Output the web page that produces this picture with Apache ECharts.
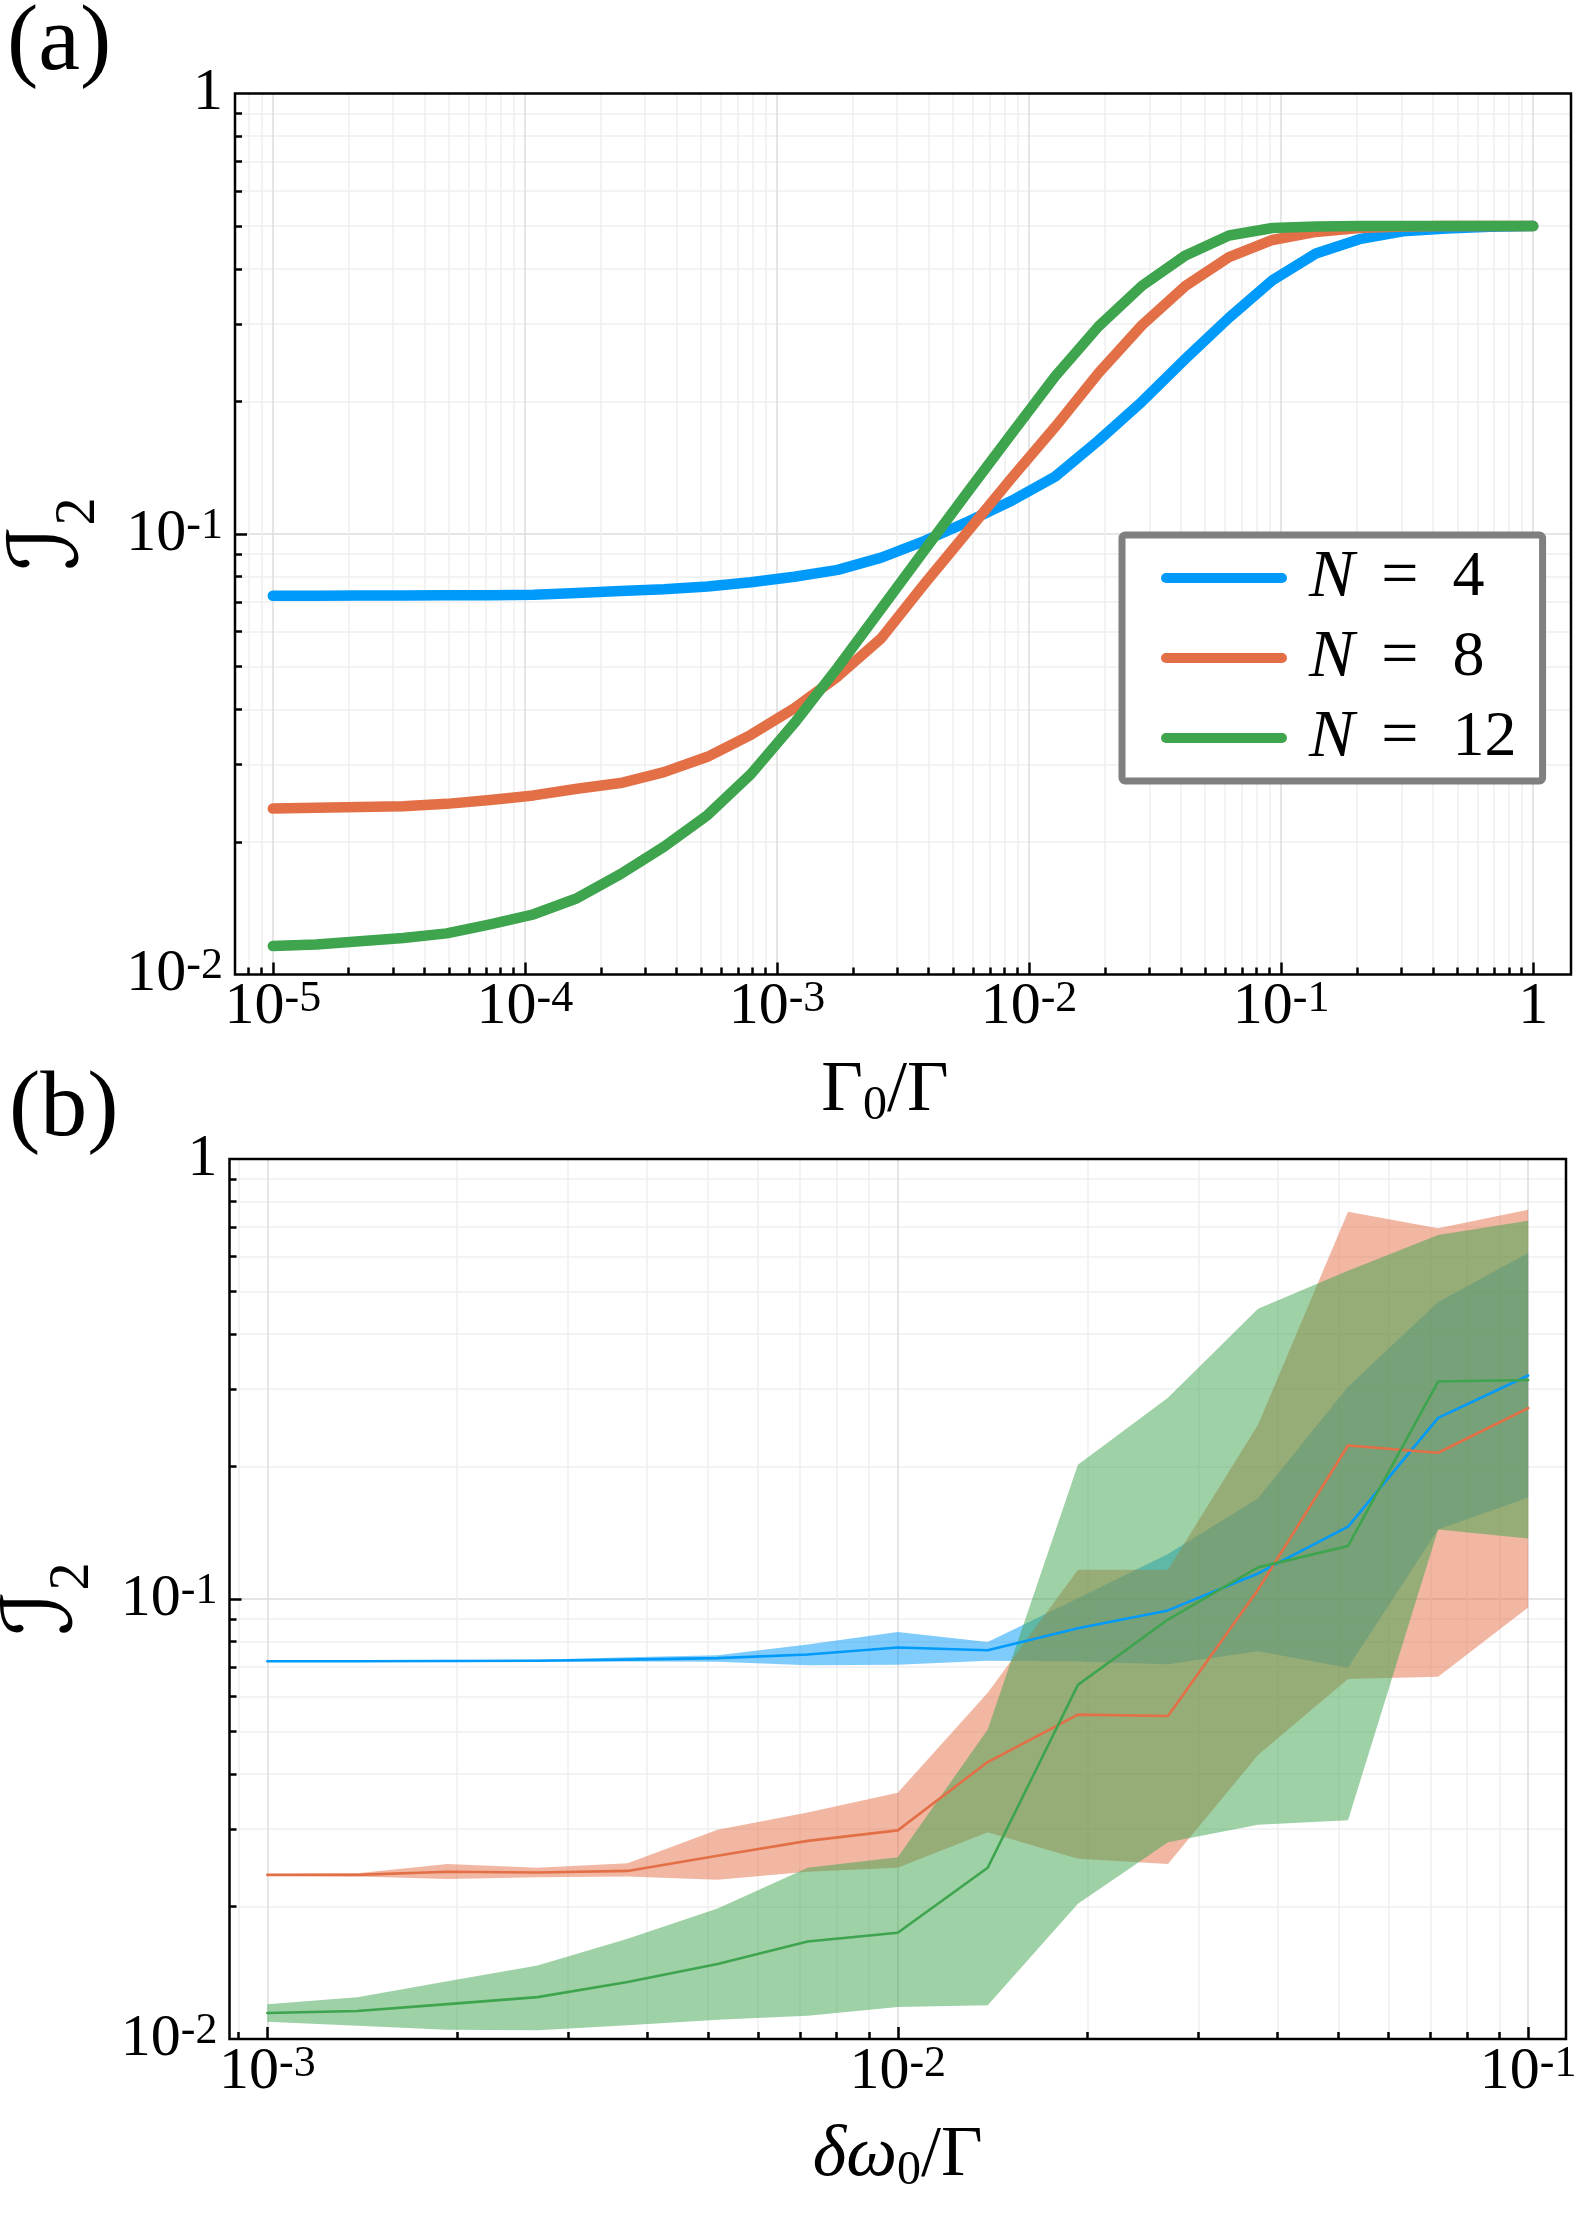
<!DOCTYPE html>
<html><head><meta charset="utf-8">
<script src="https://cdn.jsdelivr.net/npm/echarts@6/dist/echarts.min.js"></script>
<style>html,body{margin:0;padding:0;background:#fff}#c{width:1578px;height:2223px}</style>
</head><body><div id="c"></div>
<script>
// ---------- Panel (a): I2 vs Gamma0/Gamma ----------
const xA = [1.000e-5, 1.487e-5, 2.212e-5, 3.290e-5, 4.894e-5, 7.279e-5, 1.083e-4, 1.610e-4, 2.395e-4, 3.562e-4,
            5.298e-4, 7.880e-4, 1.172e-3, 1.743e-3, 2.593e-3, 3.857e-3, 5.736e-3, 8.532e-3, 1.269e-2, 1.887e-2,
            2.807e-2, 4.175e-2, 6.210e-2, 9.237e-2, 0.1374, 0.2043, 0.3039, 0.4520, 0.6723, 1.0];
const yA_N4 = [0.0724, 0.0724, 0.0725, 0.0725, 0.0726, 0.0726, 0.0728, 0.0735, 0.0742, 0.0749,
               0.0760, 0.0777, 0.0800, 0.0829, 0.0884, 0.0965, 0.1067, 0.119, 0.135, 0.163,
               0.1998, 0.2498, 0.3097, 0.3767, 0.4333, 0.467, 0.4866, 0.4937, 0.498, 0.5];
const yA_N8 = [0.0238, 0.0239, 0.0240, 0.0241, 0.0244, 0.0249, 0.0255, 0.0264, 0.0272, 0.0288,
               0.0312, 0.0350, 0.0402, 0.0475, 0.0580, 0.0772, 0.1016, 0.134, 0.175, 0.232,
               0.298, 0.366, 0.425, 0.465, 0.485, 0.495, 0.499, 0.5, 0.5, 0.5];
const yA_N12 = [0.0116, 0.0117, 0.0119, 0.0121, 0.0124, 0.0130, 0.0137, 0.0149, 0.0169, 0.0195,
                0.0230, 0.0285, 0.0372, 0.0498, 0.0677, 0.092, 0.125, 0.169, 0.228, 0.296,
                0.366, 0.429, 0.476, 0.495, 0.499, 0.5, 0.5, 0.5, 0.5, 0.5];

// ---------- Panel (b): I2 vs delta omega0/Gamma (mean, lower, upper) ----------
const xB = [1.000e-3, 1.389e-3, 1.931e-3, 2.683e-3, 3.728e-3, 5.179e-3, 7.197e-3, 1.000e-2,
            1.389e-2, 1.931e-2, 2.683e-2, 3.728e-2, 5.179e-2, 7.197e-2, 0.1];
const meanB_N4 = [0.0722, 0.0722, 0.0723, 0.0724, 0.0728, 0.0734, 0.0748, 0.0776, 0.0765, 0.0858, 0.0942, 0.1143, 0.146, 0.258, 0.322];
const upB_N4   = [0.0725, 0.0725, 0.0726, 0.0728, 0.0737, 0.0745, 0.0788, 0.0841, 0.0798, 0.1004, 0.1265, 0.1694, 0.3038, 0.4733, 0.6116];
const lowB_N4  = [0.0719, 0.0719, 0.0720, 0.0721, 0.0721, 0.0720, 0.0707, 0.0709, 0.0724, 0.0721, 0.0711, 0.0761, 0.0698, 0.1438, 0.1702];
const meanB_N8 = [0.0236, 0.0236, 0.0240, 0.0239, 0.0241, 0.0261, 0.0282, 0.0298, 0.0426, 0.0546, 0.0542, 0.105, 0.2233, 0.215, 0.2716];
const upB_N8   = [0.0237, 0.0238, 0.0250, 0.0245, 0.0251, 0.0299, 0.0327, 0.0363, 0.0612, 0.1166, 0.1166, 0.2489, 0.7586, 0.696, 0.767];
const lowB_N8  = [0.0235, 0.0234, 0.0231, 0.0233, 0.0234, 0.0230, 0.0240, 0.0245, 0.0295, 0.0257, 0.0250, 0.0442, 0.0658, 0.0666, 0.0956];
const meanB_N12 = [0.01146, 0.01158, 0.0120, 0.01245, 0.01348, 0.0148, 0.01665, 0.01744, 0.0245, 0.0638, 0.0898, 0.118, 0.132, 0.312, 0.3146];
const upB_N12   = [0.0120, 0.01245, 0.01353, 0.0147, 0.0169, 0.0198, 0.0245, 0.0259, 0.0505, 0.2019, 0.2866, 0.457, 0.5575, 0.672, 0.724];
const lowB_N12  = [0.01094, 0.01072, 0.0105, 0.01047, 0.01075, 0.01106, 0.01129, 0.01183, 0.01193, 0.0203, 0.028, 0.0307, 0.0314, 0.1438, 0.1373];

// ---------- names, ticks ----------
const seriesNames = ['N = 4', 'N = 8', 'N = 12'];
const xMajorA = [1e-5, 1e-4, 1e-3, 1e-2, 1e-1, 1];
const xMajorB = [1e-3, 1e-2, 1e-1];
const yLabelVals = [0.01, 0.1, 1];
const yMajorTicks = [0.1];
const xRangeA = [Math.pow(10, -5.15), Math.pow(10, 0.15)];
const xRangeB = [Math.pow(10, -3.06), Math.pow(10, -0.94)];
const yRange = [0.01, 1];

const COLORS = ['#009AFA', '#E36F47', '#3EA44E'];
const FILLS = ['rgba(0,154,250,0.5)', 'rgba(227,111,71,0.5)', 'rgba(62,164,78,0.5)'];
const SERIF = 'Liberation Serif';

function minorValues(lo, hi) {
  const out = [];
  for (let d = -7; d <= 1; d++) for (let m = 2; m <= 9; m++) {
    const v = m * Math.pow(10, d);
    if (v > lo && v < hi) out.push(v);
  }
  return out;
}
function sciLabel(v, oneStyle) {
  const e = Math.round(Math.log10(v));
  return e === 0 ? '{' + oneStyle + '|1}' : '{b|10}{s|' + e + '}';
}
const tickRich = {
  b: { fontFamily: SERIF, fontSize: 60, lineHeight: 60, padding: [22, 0, 0, 0], verticalAlign: 'bottom', color: '#000' },
  s: { fontFamily: SERIF, fontSize: 44, lineHeight: 44, verticalAlign: 'top', color: '#000' },
  o: { fontFamily: SERIF, fontSize: 60, lineHeight: 60, color: '#000' }
};

function minorAxis(gridIndex, range, lo, hi) {
  return {
    type: 'log', logBase: 10, gridIndex, min: range[0], max: range[1],
    axisLine: { show: false }, axisLabel: { show: false },
    axisTick: { show: true, inside: true, length: 7, lineStyle: { color: '#000', width: 2.5 }, customValues: minorValues(lo, hi) },
    splitLine: { show: true, lineStyle: { color: '#efefef', width: 1.5 }, customValues: minorValues(lo, hi) }
  };
}
function majorX(gridIndex, range, ticks, name, nameRich, namePadRight) {
  return {
    type: 'log', logBase: 10, gridIndex, min: range[0], max: range[1], position: 'bottom',
    axisLine: { show: false },
    axisTick: { show: true, inside: true, length: 12, lineStyle: { color: '#000', width: 2.5 }, customValues: ticks },
    splitLine: { show: true, lineStyle: { color: '#dcdcdc', width: 1.5 }, customValues: ticks },
    axisLabel: { customValues: ticks, margin: 3, fontFamily: SERIF, fontSize: 60, color: '#000', formatter: v => sciLabel(v, 'b'), rich: tickRich },
    name, nameLocation: 'middle', nameGap: 84, nameMoveOverlap: false,
    nameTextStyle: { fontFamily: SERIF, fontSize: 72, color: '#000', rich: nameRich, padding: [0, namePadRight, 0, 0] }
  };
}
function majorY(gridIndex) {
  return {
    type: 'log', logBase: 10, gridIndex, min: yRange[0], max: yRange[1], position: 'left',
    axisLine: { show: false },
    axisTick: { show: true, inside: true, length: 12, lineStyle: { color: '#000', width: 2.5 }, customValues: yMajorTicks },
    splitLine: { show: true, lineStyle: { color: '#dcdcdc', width: 1.5 }, customValues: yMajorTicks },
    axisLabel: { customValues: yLabelVals, margin: 12, fontFamily: SERIF, fontSize: 60, color: '#000', formatter: v => sciLabel(v, 'o'), rich: tickRich },
    name: '{I|ℐ}{sub|2}', nameLocation: 'middle', nameGap: 128, nameMoveOverlap: false,
    nameTextStyle: { fontFamily: SERIF, fontSize: 96, color: '#000', rich: {
      I: { fontFamily: 'DejaVu Sans', fontSize: 96, lineHeight: 96, padding: [0, 0, 14, 0], color: '#000' },
      sub: { fontFamily: SERIF, fontSize: 56, lineHeight: 56, verticalAlign: 'bottom', color: '#000' }
    } }
  };
}
const nameRichA = {
  g: { fontFamily: SERIF, fontSize: 72, lineHeight: 72, padding: [0, 0, 6, 0], color: '#000' },
  gi: { fontFamily: SERIF, fontStyle: 'italic', fontSize: 72, lineHeight: 72, padding: [0, 0, 6, 0], color: '#000' },
  sub: { fontFamily: SERIF, fontSize: 48, lineHeight: 48, verticalAlign: 'bottom', color: '#000' }
};

function lineSeries(name, xs, ys, color, width, axisIdx) {
  return {
    type: 'line', name, xAxisIndex: axisIdx, yAxisIndex: axisIdx,
    data: xs.map((x, i) => [x, ys[i]]), symbol: 'none', silent: true,
    lineStyle: { color, width, cap: 'round', join: 'round' }, itemStyle: { color }
  };
}
function bandSeries(name, xs, lo, hi, fill, axisIdx) {
  return {
    type: 'custom', name, xAxisIndex: axisIdx, yAxisIndex: axisIdx, silent: true,
    data: xs.map((x, i) => [x, lo[i], hi[i]]), encode: { x: 0, y: [1, 2] },
    renderItem: (params, api) => {
      if (params.dataIndex !== 0) return null;
      const pts = [];
      for (let i = 0; i < xs.length; i++) pts.push(api.coord([xs[i], hi[i]]));
      for (let i = xs.length - 1; i >= 0; i--) pts.push(api.coord([xs[i], lo[i]]));
      return { type: 'polygon', shape: { points: pts }, style: { fill, stroke: null } };
    }
  };
}

const chart = echarts.init(document.getElementById('c'), null, { renderer: 'canvas' });
chart.setOption({
  animation: false,
  backgroundColor: '#fff',
  textStyle: { fontFamily: SERIF },
  title: [
    { text: '(a)', left: 2, top: -8, textStyle: { fontFamily: SERIF, fontSize: 94, fontWeight: 'normal', color: '#000' } },
    { text: '(b)', left: 4, top: 1058, textStyle: { fontFamily: SERIF, fontSize: 94, fontWeight: 'normal', color: '#000' } }
  ],
  grid: [
    { left: 235, top: 93.5, width: 1336, height: 881, show: true, borderColor: '#000', borderWidth: 2.5, backgroundColor: 'transparent', z: 10, outerBoundsMode: 'none' },
    { left: 229.5, top: 1159, width: 1336.5, height: 880, show: true, borderColor: '#000', borderWidth: 2.5, backgroundColor: 'transparent', z: 10, outerBoundsMode: 'none' }
  ],
  xAxis: [
    minorAxis(0, xRangeA, xRangeA[0], xRangeA[1]),
    majorX(0, xRangeA, xMajorA, '{g|Γ}{sub|0}{g|/Γ}', nameRichA, 36),
    minorAxis(1, xRangeB, xRangeB[0], xRangeB[1]),
    majorX(1, xRangeB, xMajorB, '{gi|δω}{sub|0}{g|/Γ}', nameRichA, 0)
  ],
  yAxis: [
    minorAxis(0, yRange, yRange[0], yRange[1]),
    majorY(0),
    minorAxis(1, yRange, yRange[0], yRange[1]),
    majorY(1)
  ],
  legend: {
    data: seriesNames, orient: 'vertical', left: 1122, top: 535,
    itemWidth: 116, itemHeight: 60, itemGap: 12,
    padding: [9, 26, 9, 39],
    borderColor: '#7f7f7f', borderWidth: 7, borderRadius: 3, backgroundColor: '#fff',
    selectedMode: false,
    itemStyle: { opacity: 0, color: 'rgba(0,0,0,0)', borderWidth: 0 },
    lineStyle: { width: 10, cap: 'round' },
    formatter: name => '{n|N}{e|=}{v|' + name.split('= ')[1] + '}',
    textStyle: { fontFamily: SERIF, fontSize: 64, color: '#000', rich: {
      n: { fontFamily: SERIF, fontStyle: 'italic', fontSize: 68, lineHeight: 60, padding: [0, 0, 0, 22], color: '#000' },
      e: { fontFamily: SERIF, fontSize: 66, lineHeight: 60, padding: [0, 34, 0, 27], color: '#000' },
      v: { fontFamily: SERIF, fontSize: 64, lineHeight: 60, width: 64, color: '#000' }
    } }
  },
  series: [
    lineSeries(seriesNames[0], xA, yA_N4, COLORS[0], 10.5, 1),
    lineSeries(seriesNames[1], xA, yA_N8, COLORS[1], 10.5, 1),
    lineSeries(seriesNames[2], xA, yA_N12, COLORS[2], 10.5, 1),
    bandSeries('band b N4', xB, lowB_N4, upB_N4, FILLS[0], 3),
    lineSeries('mean b N4', xB, meanB_N4, COLORS[0], 2.6, 3),
    bandSeries('band b N8', xB, lowB_N8, upB_N8, FILLS[1], 3),
    lineSeries('mean b N8', xB, meanB_N8, COLORS[1], 2.6, 3),
    bandSeries('band b N12', xB, lowB_N12, upB_N12, FILLS[2], 3),
    lineSeries('mean b N12', xB, meanB_N12, COLORS[2], 2.6, 3)
  ]
});
</script>
</body></html>
